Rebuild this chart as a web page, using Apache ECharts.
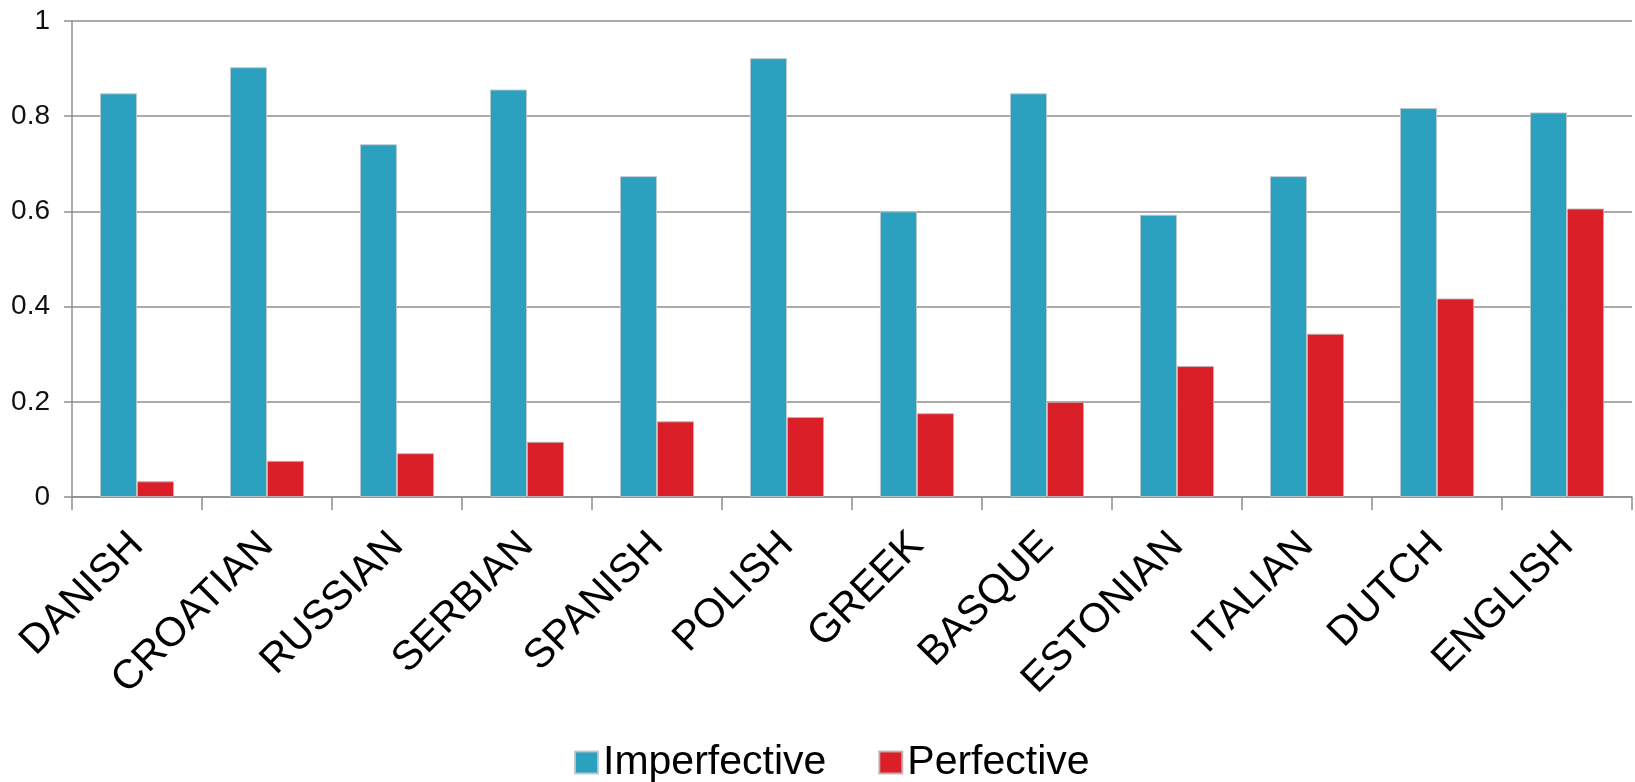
<!DOCTYPE html>
<html>
<head>
<meta charset="utf-8">
<title>Imperfective vs Perfective by language</title>
<script src="https://cdn.jsdelivr.net/npm/echarts@6/dist/echarts.min.js"></script>
<style>
  html, body { margin: 0; padding: 0; background: #ffffff; }
  #chart { width: 1635px; height: 782px; }
</style>
</head>
<body>
<div id="chart"></div>
<script>
// Languages along the x axis
var languages = ['DANISH', 'CROATIAN', 'RUSSIAN', 'SERBIAN', 'SPANISH', 'POLISH',
                 'GREEK', 'BASQUE', 'ESTONIAN', 'ITALIAN', 'DUTCH', 'ENGLISH'];

// Proportions per aspect
var imperfective = [0.848, 0.903, 0.741, 0.856, 0.674, 0.922, 0.600, 0.848, 0.593, 0.674, 0.817, 0.808];
var perfective   = [0.033, 0.076, 0.092, 0.116, 0.159, 0.168, 0.176, 0.200, 0.275, 0.343, 0.417, 0.606];

var seriesNames = ['Imperfective', 'Perfective'];
var seriesColors = ['#2CA1BF', '#DA1F29'];

var FONT = '"Liberation Sans", Arial, Helvetica, sans-serif';
var GRID_GRAY = '#8f8f8f';

var chart = echarts.init(document.getElementById('chart'), null, { renderer: 'canvas' });

chart.setOption({
  animation: false,
  backgroundColor: '#ffffff',
  textStyle: { fontFamily: FONT },
  grid: { left: 72, right: 3, top: 21, bottom: 285, containLabel: false },
  legend: {
    data: seriesNames,
    left: 569,
    top: 737,
    itemWidth: 23,
    itemHeight: 22,
    itemGap: 52,
    icon: 'rect',
    textStyle: { fontSize: 41, color: '#000000', fontFamily: FONT }
  },
  xAxis: {
    type: 'category',
    data: languages,
    boundaryGap: true,
    axisLine: { show: true, lineStyle: { color: GRID_GRAY, width: 1.5 } },
    axisTick: { show: true, length: 13, alignWithLabel: false, lineStyle: { color: GRID_GRAY, width: 1.5 } },
    axisLabel: {
      interval: 0,
      rotate: 45,
      margin: 42,
      fontSize: 41,
      color: '#000000',
      fontFamily: FONT
    }
  },
  yAxis: {
    type: 'value',
    min: 0,
    max: 1,
    interval: 0.2,
    axisLine: { show: true, lineStyle: { color: GRID_GRAY, width: 1.5 } },
    axisTick: { show: true, length: 8, lineStyle: { color: GRID_GRAY, width: 1.5 } },
    splitLine: { show: true, lineStyle: { color: GRID_GRAY, width: 1.5 } },
    axisLabel: {
      margin: 22,
      fontSize: 28,
      color: '#111111',
      fontFamily: FONT,
      formatter: function (v) { return String(Math.round(v * 10) / 10); }
    }
  },
  series: [
    {
      name: seriesNames[0],
      type: 'bar',
      data: imperfective,
      barGap: '0%',
      barCategoryGap: '43%',
      itemStyle: { color: seriesColors[0], borderColor: 'rgba(190,200,204,0.9)', borderWidth: 1 }
    },
    {
      name: seriesNames[1],
      type: 'bar',
      data: perfective,
      barGap: '0%',
      barCategoryGap: '43%',
      itemStyle: { color: seriesColors[1], borderColor: 'rgba(190,180,180,0.9)', borderWidth: 1 }
    }
  ]
});
</script>
</body>
</html>
